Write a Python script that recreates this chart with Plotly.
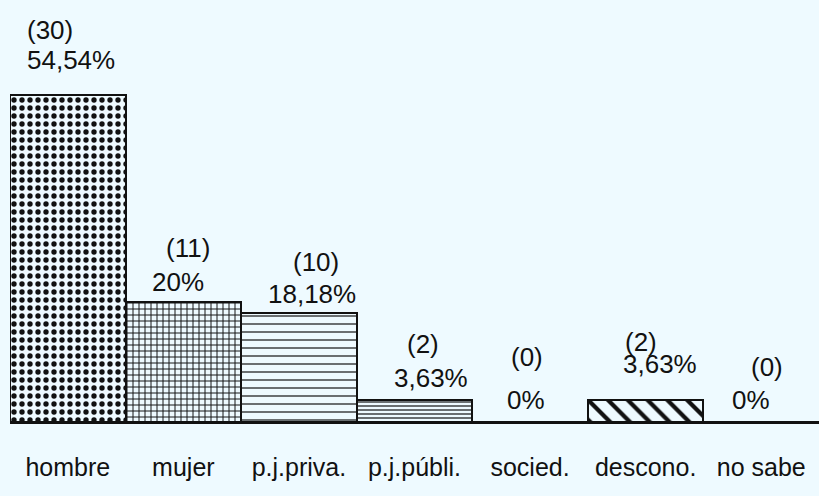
import plotly.graph_objects as go

categorias = ["hombre", "mujer", "p.j.priva.", "p.j.públi.", "socied.", "descono.", "no sabe"]
casos = [30, 11, 10, 2, 0, 2, 0]
porcentajes = ["54,54%", "20%", "18,18%", "3,63%", "0%", "3,63%", "0%"]

# estilo de trama de cada barra
tramas = [".", "+", "-", "-", "", "\\", ""]
tamanos = [8, 6, 8, 4, 8, 14, 8]
solidez = [0.35, 0.3, 0.15, 0.3, 0.2, 0.3, 0.2]

# desplazamientos (px) de las etiquetas respecto a la parte alta de cada barra
dx_casos = [-18, 5, 17, 8, -3, -5, 6]
dy_casos = [65, 54, 51, 56, 65, 58, 55]
dx_pct = [3, -5, 13, 16, -4, 14, -10]
dy_pct = [35, 20, 19, 22, 22, 36, 22]

fondo = "#eefaff"
negro = "#111111"

fig = go.Figure()
fig.add_trace(go.Bar(
    x=categorias,
    y=casos,
    marker=dict(
        color=fondo,
        line=dict(color=negro, width=2),
        pattern=dict(shape=tramas, size=tamanos, solidity=solidez,
                     fgcolor=negro, bgcolor=fondo, fgopacity=1, fillmode="overlay"),
    ),
    hoverinfo="x+y",
))

for i, cat in enumerate(categorias):
    fig.add_annotation(x=cat, y=casos[i], text="(%d)" % casos[i], showarrow=False,
                       xshift=dx_casos[i], yshift=dy_casos[i], yanchor="middle",
                       font=dict(size=26, color=negro))
    fig.add_annotation(x=cat, y=casos[i], text=porcentajes[i], showarrow=False,
                       xshift=dx_pct[i], yshift=dy_pct[i], yanchor="middle",
                       font=dict(size=26, color=negro))

fig.update_layout(
    width=819, height=496,
    margin=dict(l=10, r=0, t=0, b=74),
    paper_bgcolor=fondo, plot_bgcolor=fondo,
    bargap=0,
    showlegend=False,
    font=dict(family="Liberation Sans, Arial, sans-serif", size=26, color=negro),
)
fig.update_xaxes(showline=True, linecolor=negro, linewidth=2, ticks="",
                 ticklabelstandoff=22, showgrid=False, range=[-0.5, 6.5],
                 tickfont=dict(size=25))
fig.update_yaxes(visible=False, range=[0, 38.7])

fig.write_html("out.html", config={"displayModeBar": False},
               post_script="document.body.style.margin='0';document.body.style.background='#eefaff';")
